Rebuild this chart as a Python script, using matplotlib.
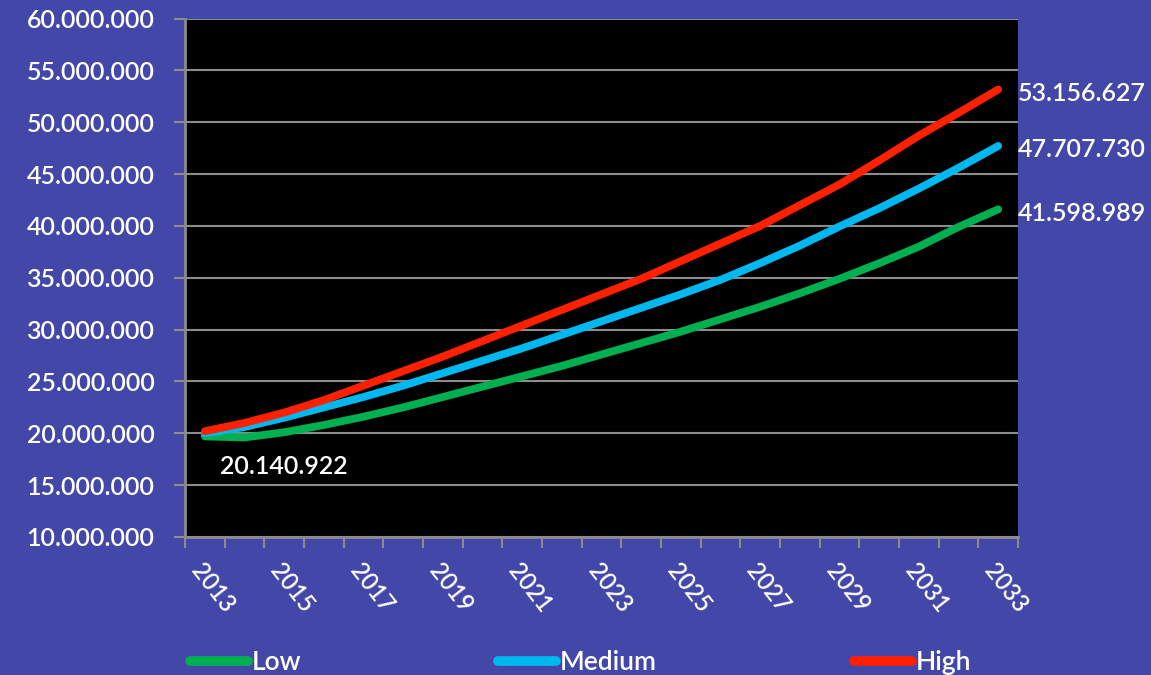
import numpy as np
import matplotlib
matplotlib.use("Agg")
import matplotlib.pyplot as plt
from matplotlib.ticker import FuncFormatter, FixedLocator

# data (population, 2013-2033)
years = list(range(2013, 2034))
low = [19.7, 19.6, 20.1, 20.8, 21.6, 22.5, 23.5, 24.5, 25.5, 26.5, 27.6,
       28.7, 29.8, 31.0, 32.2, 33.5, 34.9, 36.4, 38.0, 39.9, 41.598989]
medium = [20.0, 20.6, 21.5, 22.5, 23.5, 24.6, 25.8, 27.0, 28.2, 29.5, 30.8,
          32.1, 33.4, 34.8, 36.4, 38.1, 39.95, 41.7, 43.6, 45.6, 47.70773]
high = [20.2, 21.0, 22.0, 23.2, 24.6, 26.0, 27.4, 28.9, 30.4, 31.9, 33.4,
        34.9, 36.6, 38.3, 40.0, 42.0, 44.0, 46.3, 48.7, 50.9, 53.156627]
series_names = ["Low", "Medium", "High"]
colors = ["#00B050", "#00B8F0", "#FF2000"]
end_labels = ["41.598.989", "47.707.730", "53.156.627"]
start_label = "20.140.922"

BG = "#4348A8"
GRID = "#8C8C8C"
FONT = ["Lato", "DejaVu Sans"]

plt.rcParams['font.family'] = FONT
plt.rcParams['font.weight'] = 'semibold'


def dotted(v, pos):
    return "{:,.0f}".format(v * 1e6).replace(",", ".")


def main():
    fig = plt.figure(figsize=(11.51, 6.75), dpi=100, facecolor=BG)
    ax = fig.add_axes([185 / 1151, 1 - 537 / 675, (1018 - 185) / 1151, (537 - 18.5) / 675])
    ax.set_facecolor("black")

    x = np.arange(len(years))
    data = [low, medium, high]
    for vals, name, c in zip(data, series_names, colors):
        ax.plot(x, vals, color=c, lw=5.6, solid_capstyle="round",
                solid_joinstyle="round", label=name, zorder=3)

    ax.set_xlim(-0.5, len(years) - 0.5)
    ax.set_ylim(10, 60)

    # y axis
    ax.set_yticks(np.arange(10, 61, 5))
    ax.yaxis.set_major_formatter(FuncFormatter(dotted))
    ax.grid(axis="y", color=GRID, lw=1.5, zorder=1)
    ax.tick_params(axis="y", colors=GRID, length=8, width=1.5, pad=14,
                   labelcolor="white", labelsize=18)

    # x axis: tick marks on category borders, labels in the middle
    ax.xaxis.set_major_locator(FixedLocator(np.arange(-0.5, len(years), 1)))
    ax.set_xticklabels([])
    ax.set_xticks(x[::2], minor=True)
    ax.set_xticklabels([str(y) for y in years[::2]], minor=True,
                       rotation=-52, ha="left", va="top", rotation_mode="anchor")
    ax.tick_params(axis="x", which="major", colors=GRID, length=8, width=1.5)
    ax.tick_params(axis="x", which="minor", length=0, pad=16,
                   labelcolor="white", labelsize=17)

    for side in ["top", "right"]:
        ax.spines[side].set_visible(False)
    for side in ["left", "bottom"]:
        ax.spines[side].set_color(GRID)
        ax.spines[side].set_linewidth(2)

    # value labels
    for vals, lab in zip(data, end_labels):
        ax.annotate(lab, xy=(x[-1], vals[-1]), xytext=(20, -4),
                    textcoords="offset pixels", ha="left", va="center",
                    color="white", fontsize=18, annotation_clip=False)
    ax.annotate(start_label, xy=(x[0], low[0]), xytext=(15, -30),
                textcoords="offset pixels", ha="left", va="center",
                color="white", fontsize=18)

    leg = fig.legend(loc="lower left", bbox_to_anchor=(190 / 1151, 0.0),
                     ncol=3, frameon=False, fontsize=19, labelcolor="white",
                     handlelength=2.2, handletextpad=0.15, columnspacing=7.45,
                     borderpad=0, borderaxespad=0)
    for h in leg.get_lines():
        h.set_linewidth(7)
        h.set_solid_capstyle("round")

    fig.savefig("out.png", dpi=100, facecolor=BG)


if __name__ == "__main__":
    main()
